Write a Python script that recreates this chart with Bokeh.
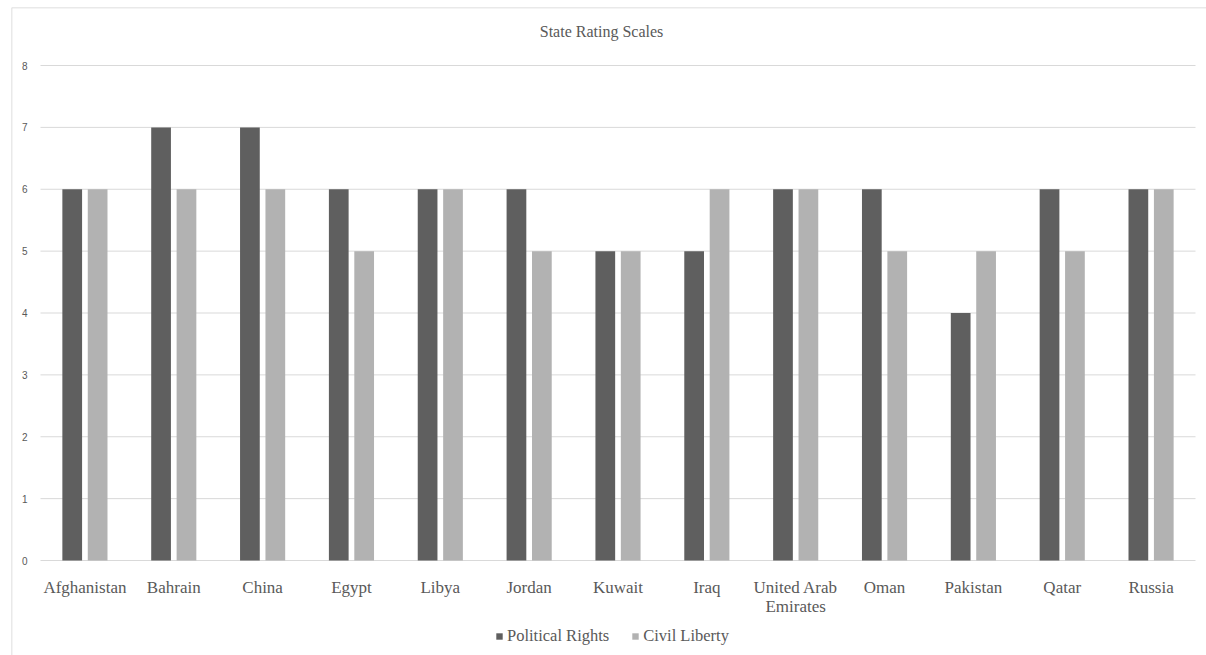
from bokeh.plotting import figure
from bokeh.models import ColumnDataSource, Range1d, Legend, LegendItem, Span
from bokeh.core.properties import value
from bokeh.embed import file_html
from bokeh.resources import INLINE

countries = ["Afghanistan", "Bahrain", "China", "Egypt", "Libya", "Jordan", "Kuwait",
             "Iraq", "United Arab Emirates", "Oman", "Pakistan", "Qatar", "Russia"]
country_labels = ["Afghanistan", "Bahrain", "China", "Egypt", "Libya", "Jordan", "Kuwait",
                  "Iraq", "United Arab\nEmirates", "Oman", "Pakistan", "Qatar", "Russia"]
political_rights = [6, 7, 7, 6, 6, 6, 5, 5, 6, 6, 4, 6, 6]
civil_liberty = [6, 6, 6, 5, 6, 5, 5, 6, 6, 5, 5, 5, 6]
y_ticks = [0, 1, 2, 3, 4, 5, 6, 7, 8]
title_text = "State Rating Scales"
series_names = ["Political Rights", "Civil Liberty"]

DARK = "#5f5f5f"
LIGHT = "#b2b2b2"
TEXT = "#595959"
GRID = "#d9d9d9"
BORDER = "#d4d4d4"
SERIF = "Liberation Serif"

n = len(countries)
ymax = max(y_ticks)

# frame occupies canvas x 11..1206, y 7..655; plot area 40..1195 x 65..560
PX_X = 1155.0 / n          # pixels per category
PX_Y = 495.0 / ymax        # pixels per unit
x_start = -(40 - 11) / PX_X
x_end = n + (1206 - 1195) / PX_X
y_start = -(655 - 560) / PX_Y
y_end = ymax + (65 - 7) / PX_Y

p = figure(width=1206, height=655, x_range=Range1d(x_start, x_end), y_range=Range1d(y_start, y_end),
           output_backend="svg", toolbar_location=None,
           x_axis_location=None, y_axis_location=None,
           min_border_left=11, min_border_right=0, min_border_top=7, min_border_bottom=0)
p.outline_line_color = None
p.grid.visible = False
p.background_fill_color = "white"
p.border_fill_color = "white"

# chart-area border (left and top only)
p.add_layout(Span(location=x_start, dimension="height", line_color=BORDER, line_width=1.5))
p.add_layout(Span(location=y_end, dimension="width", line_color=BORDER, line_width=1.5))

# gridlines
grid_src = ColumnDataSource(dict(x0=[0] * len(y_ticks), x1=[n] * len(y_ticks), y=y_ticks))
p.segment(x0="x0", x1="x1", y0="y", y1="y", source=grid_src, line_color=GRID, line_width=1)

# bars
centers = [i + 0.5 for i in range(n)]
src = ColumnDataSource(dict(x_pr=[c - 0.143 for c in centers], x_cl=[c + 0.143 for c in centers],
                            pr=political_rights, cl=civil_liberty))
r1 = p.vbar(x="x_pr", top="pr", width=0.222, source=src, fill_color=DARK, line_color=None)
r2 = p.vbar(x="x_cl", top="cl", width=0.222, source=src, fill_color=LIGHT, line_color=None)

# y tick labels
ytl = ColumnDataSource(dict(x=[-13.0 / PX_X] * len(y_ticks), y=y_ticks, t=[str(v) for v in y_ticks]))
p.text(x="x", y="y", text="t", source=ytl, text_align="right", text_baseline="middle",
       text_font=value("Liberation Sans"), text_font_size="10px", text_color=TEXT)

# category labels (multi-line split manually)
lx, lt, loff = [], [], []
for c, lab in zip(centers, country_labels):
    for k, line in enumerate(lab.split("\n")):
        lx.append(c)
        lt.append(line)
        loff.append(k * 19)
xl = ColumnDataSource(dict(x=lx, y=[-27.0 / PX_Y] * len(lx), t=lt, off=loff))
p.text(x="x", y="y", text="t", y_offset="off", source=xl, text_align="center",
       text_baseline="alphabetic", text_font=value(SERIF), text_font_size="17px", text_color=TEXT)

# title
p.text(x=[(601 - 40) / PX_X], y=[ymax + (65 - 31) / PX_Y], text=[title_text], text_align="center",
       text_baseline="middle", text_font=value(SERIF), text_font_size="16px", text_color=TEXT)

legend = Legend(items=[LegendItem(label=series_names[0], renderers=[r1]),
                       LegendItem(label=series_names[1], renderers=[r2])],
                orientation="horizontal", location=(484, 9),
                glyph_width=8, glyph_height=8, label_standoff=4, spacing=22,
                label_text_font=SERIF, label_text_font_size="16.5px", label_text_color=TEXT,
                border_line_color=None, background_fill_alpha=0, padding=0, margin=0)
p.add_layout(legend)

open("out.html", "w").write(file_html(p, INLINE))
